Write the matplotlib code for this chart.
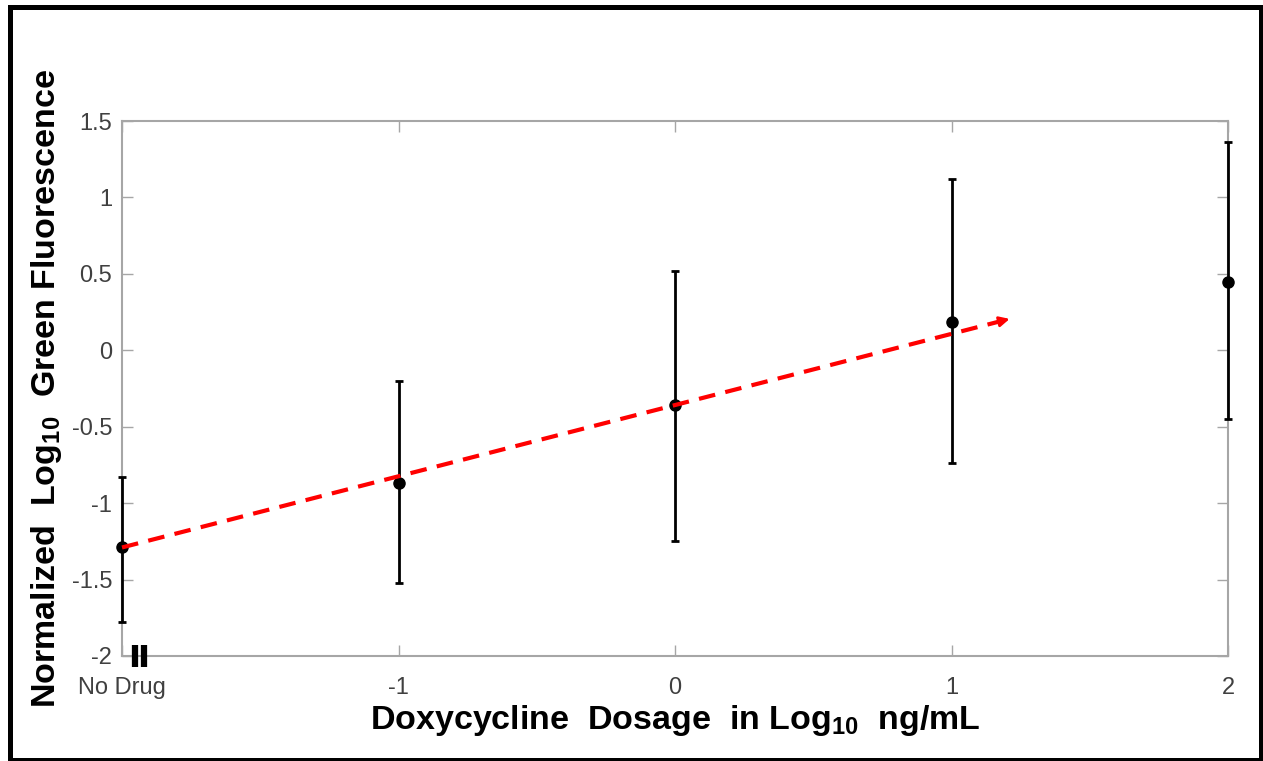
import matplotlib
matplotlib.use("Agg")
import matplotlib.pyplot as plt
from matplotlib.patches import Rectangle

# data
dose = [-2, -1, 0, 1, 2]
dose_labels = ["No Drug", "-1", "0", "1", "2"]
mean = [-1.29, -0.87, -0.36, 0.185, 0.45]
upper = [-0.83, -0.20, 0.52, 1.12, 1.36]
lower = [-1.78, -1.52, -1.25, -0.74, -0.45]
trend_x = [-2.0, 1.22]
trend_y = [-1.29, 0.21]
y_ticks = [-2, -1.5, -1, -0.5, 0, 0.5, 1, 1.5]
y_labels = ["-2", "-1.5", "-1", "-0.5", "0", "0.5", "1", "1.5"]

plt.rcParams["font.family"] = ["Liberation Sans", "DejaVu Sans"]
plt.rcParams["mathtext.fontset"] = "custom"
plt.rcParams["mathtext.rm"] = "Liberation Sans:bold"
plt.rcParams["mathtext.default"] = "rm"

W, H = 1263, 761
fig = plt.figure(figsize=(W / 100, H / 100), dpi=100)
ax = fig.add_axes([122 / W, 1 - 656 / H, (1228 - 122) / W, (656 - 121) / H])

yerr = [[m - lo for m, lo in zip(mean, lower)], [up - m for m, up in zip(mean, upper)]]
ax.errorbar(dose, mean, yerr=yerr, fmt="o", color="black", ms=8, elinewidth=2,
            capsize=3, capthick=2, zorder=3, clip_on=False)

# dashed trend arrow
ax.plot(trend_x, trend_y, color="red", lw=3, ls=(0, (4, 2.5)), zorder=4, clip_on=False)
ax.annotate("", xy=(trend_x[1], trend_y[1]),
            xytext=(trend_x[1] - 0.05, trend_y[1] - 0.0233),
            arrowprops=dict(arrowstyle="-|>,head_length=0.6,head_width=0.3",
                            color="red", lw=2), zorder=4)

ax.set_xlim(-2, 2)
ax.set_ylim(-2, 1.5)
ax.set_xticks(dose)
ax.set_xticklabels(dose_labels)
ax.set_yticks(y_ticks)
ax.set_yticklabels(y_labels)

grey = "#a6a6a6"
for s in ax.spines.values():
    s.set_color(grey)
    s.set_linewidth(1.5)
ax.tick_params(direction="in", length=8, width=1, color=grey, labelcolor="#404040",
               labelsize=17, top=True, right=True)
ax.tick_params(axis="x", pad=15)
ax.tick_params(axis="y", pad=7)

ax.set_xlabel(r"Doxycycline  Dosage  in Log$_{10}$  ng/mL", fontsize=24.5,
              fontweight="bold")
ax.set_ylabel(r"Normalized  Log$_{10}$  Green Fluorescence", fontsize=24.5,
              fontweight="bold")
ax.xaxis.set_label_coords(0.5, -0.088)
ax.yaxis.set_label_coords(-0.052, 0.5)

# axis break mark next to "No Drug"
for bx in (0.0122, 0.0199):
    ax.plot([bx, bx], [-0.02, 0.02], transform=ax.transAxes, color="black",
            lw=4.5, solid_capstyle="butt", clip_on=False, zorder=6)

# outer frame
fig.patches.append(Rectangle((9.5 / W, 1.5 / H), (1260.5 - 9.5) / W, (754.5 - 1.5) / H,
                             transform=fig.transFigure, fill=False,
                             edgecolor="black", lw=3.6))

fig.savefig("out.png", dpi=100)
